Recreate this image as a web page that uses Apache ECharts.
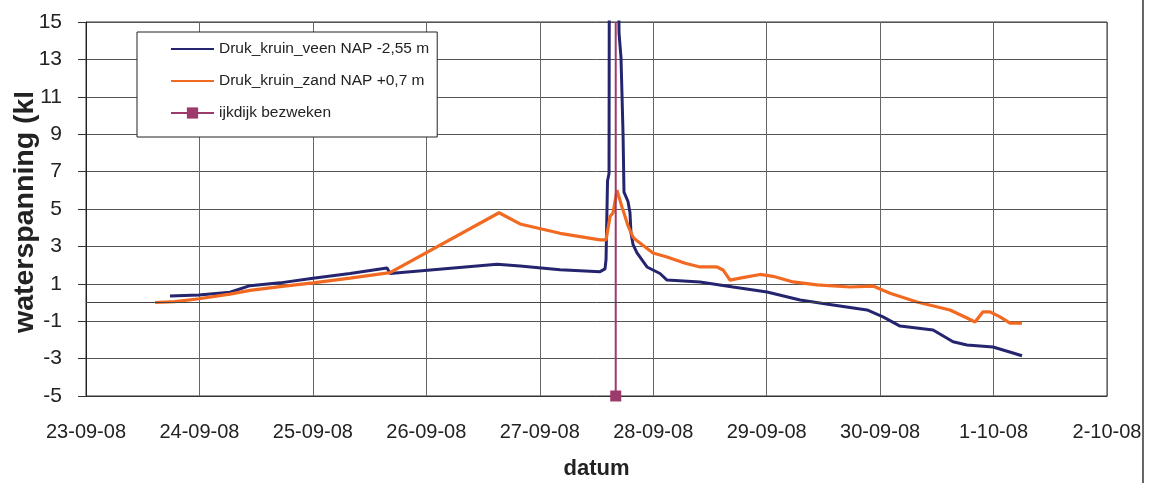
<!DOCTYPE html>
<html>
<head>
<meta charset="utf-8">
<script src="https://cdn.jsdelivr.net/npm/echarts@6/dist/echarts.min.js"></script>
<style>
html, body { margin: 0; padding: 0; background: #fff; }
#chart { width: 1149px; height: 483px; }
</style>
</head>
<body>
<div id="chart"></div>
<script>
// tick labels of the date axis (one per day)
var xLabels = ['23-09-08', '24-09-08', '25-09-08', '26-09-08', '27-09-08', '28-09-08', '29-09-08', '30-09-08', '1-10-08', '2-10-08'];
var seriesNames = ['Druk_kruin_veen NAP -2,55 m', 'Druk_kruin_zand NAP +0,7 m', 'ijkdijk bezweken'];

// Druk_kruin_veen (blauw)
var veenTimes = ['2008-09-23 17:46', '2008-09-23 23:54', '2008-09-24 06:28', '2008-09-24 10:42', '2008-09-24 17:03',
	'2008-09-25 00:02', '2008-09-25 07:51', '2008-09-25 15:41', '2008-09-25 16:19', '2008-09-26 14:57',
	'2008-09-26 19:49', '2008-09-27 04:17', '2008-09-27 12:45', '2008-09-27 13:48', '2008-09-27 14:01',
	'2008-09-27 14:20', '2008-09-27 14:39', '2008-09-27 14:45', '2008-09-27 16:30', '2008-09-27 16:46',
	'2008-09-27 17:11', '2008-09-27 17:37', '2008-09-27 17:49', '2008-09-27 18:40', '2008-09-27 19:05',
	'2008-09-27 19:18', '2008-09-27 19:44', '2008-09-27 20:34', '2008-09-27 22:41', '2008-09-28 01:26',
	'2008-09-28 02:55', '2008-09-28 09:54', '2008-09-28 16:53', '2008-09-29 00:05', '2008-09-29 07:04',
	'2008-09-29 14:02', '2008-09-29 21:14', '2008-09-30 00:37', '2008-09-30 04:13', '2008-09-30 11:12',
	'2008-09-30 15:26', '2008-09-30 18:23', '2008-09-30 23:53', '2008-10-01 04:07', '2008-10-01 06:01'];
var veenValues = [0.35, 0.4, 0.55, 0.9, 1.05,
	1.3, 1.55, 1.85, 1.55, 2.05,
	1.95, 1.75, 1.65, 1.8, 2.3,
	6.5, 6.9, 25, 22, 14.4,
	13.1, 9.0, 5.9, 5.4, 4.8,
	3.7, 3.1, 2.65, 1.9, 1.55,
	1.2, 1.1, 0.83, 0.56, 0.13,
	-0.13, -0.4, -0.77, -1.26, -1.47,
	-2.1, -2.27, -2.38, -2.7, -2.85];

// Druk_kruin_zand (oranje)
var zandTimes = ['2008-09-23 14:36', '2008-09-23 18:50', '2008-09-23 23:54', '2008-09-24 06:28', '2008-09-24 10:42',
	'2008-09-24 17:03', '2008-09-25 00:02', '2008-09-25 07:51', '2008-09-25 16:19', '2008-09-26 15:23',
	'2008-09-26 19:49', '2008-09-27 04:17', '2008-09-27 12:45', '2008-09-27 14:01', '2008-09-27 14:52',
	'2008-09-27 15:30', '2008-09-27 16:20', '2008-09-27 17:24', '2008-09-27 18:40', '2008-09-27 19:44',
	'2008-09-27 20:34', '2008-09-27 23:57', '2008-09-28 02:55', '2008-09-28 06:46', '2008-09-28 09:54',
	'2008-09-28 13:30', '2008-09-28 14:46', '2008-09-28 16:15', '2008-09-28 18:22', '2008-09-28 22:36',
	'2008-09-29 01:21', '2008-09-29 05:35', '2008-09-29 10:39', '2008-09-29 17:38', '2008-09-29 22:30',
	'2008-09-30 02:06', '2008-09-30 07:49', '2008-09-30 14:47', '2008-09-30 18:23', '2008-09-30 20:05',
	'2008-09-30 21:46', '2008-09-30 23:15', '2008-10-01 01:22', '2008-10-01 03:29', '2008-10-01 06:01'];
var zandValues = [0.0, 0.05, 0.2, 0.45, 0.65,
	0.85, 1.05, 1.3, 1.6, 4.8,
	4.2, 3.7, 3.35, 3.35, 4.6,
	4.8, 6.0, 5.1, 4.1, 3.5,
	3.3, 2.65, 2.43, 2.1, 1.9,
	1.9, 1.74, 1.2, 1.3, 1.5,
	1.4, 1.1, 0.94, 0.83, 0.88,
	0.5, 0.03, -0.4, -0.83, -1.04,
	-0.5, -0.5, -0.77, -1.1, -1.1];

// ijkdijk bezweken (verticale lijn)
var bezwekenTimes = ['2008-09-27 16:04', '2008-09-27 16:04'];
var bezwekenValues = [-5, 15];

var yTicks = { min: -5, max: 15, step: 2 };

var startMs = Date.parse('2008-09-23T00:00:00Z');
function toDay(s) {
	return (Date.parse(s.replace(' ', 'T') + ':00Z') - startMs) / 864e5;
}
function makeData(times, values) {
	var t = [];
	for (var i = 0; i < times.length; i++) {
		t.push([toDay(times[i]), values[i]]);
	}
	return t;
}

var bezwekenData = makeData(bezwekenTimes, bezwekenValues);
bezwekenData[1] = { value: bezwekenData[1], symbol: 'none' };

var dom = document.getElementById('chart');
var myChart = echarts.init(dom);
var font = 'Liberation Sans';

var option = {
	animation: false,
	backgroundColor: '#ffffff',
	legend: {
		orient: 'vertical',
		left: 137,
		top: 32,
		padding: [9, 8, 16, 33],
		itemWidth: 43,
		itemHeight: 14,
		itemGap: 16,
		borderColor: '#222',
		borderWidth: 1,
		backgroundColor: '#fff',
		textStyle: { fontFamily: font, fontSize: 15.5, color: '#222' },
		data: [
			{ name: seriesNames[0], itemStyle: { opacity: 0 } },
			{ name: seriesNames[1], itemStyle: { opacity: 0 } },
			{ name: seriesNames[2] }
		]
	},
	grid: {
		left: 86,
		right: 42,
		top: 22,
		bottom: 87,
		outerBoundsMode: 'none',
		show: true,
		borderColor: '#333',
		borderWidth: 1
	},
	xAxis: {
		type: 'value',
		min: 0,
		max: xLabels.length - 1,
		interval: 1,
		name: 'datum',
		nameLocation: 'middle',
		nameGap: 62,
		nameTextStyle: { fontFamily: font, fontSize: 22, fontWeight: 'bold', color: '#222' },
		axisLine: { onZero: false, lineStyle: { color: '#333' } },
		axisTick: { show: false },
		axisLabel: {
			margin: 26,
			fontFamily: font,
			fontSize: 20,
			color: '#222',
			formatter: function (v) { return xLabels[Math.round(v)]; }
		},
		splitLine: { show: true, lineStyle: { color: '#666', width: 1 } }
	},
	yAxis: {
		type: 'value',
		min: yTicks.min,
		max: yTicks.max,
		interval: yTicks.step,
		axisLine: { show: true, lineStyle: { color: '#222' } },
		axisTick: { show: true, length: 8, lineStyle: { color: '#333' } },
		axisLabel: { margin: 24, fontFamily: font, fontSize: 21, color: '#222' },
		splitLine: { show: true, lineStyle: { color: '#555', width: 1 } }
	},
	graphic: [{
		// de titel is in het origineel bovenaan afgesneden
		type: 'text',
		x: 25,
		y: 333,
		rotation: Math.PI / 2,
		z: 10,
		style: {
			text: 'waterspanning (kP',
			font: 'bold 28.5px Liberation Sans',
			fill: '#222',
			textAlign: 'left',
			textVerticalAlign: 'middle'
		}
	}, {
		type: 'rect',
		z: 20,
		shape: { x: 0, y: 0, width: 38, height: 93 },
		style: { fill: '#fff' }
	}, {
		type: 'line',
		z: 20,
		shape: { x1: 1143, y1: 0, x2: 1143, y2: 483 },
		style: { stroke: '#333', lineWidth: 1.5 }
	}],
	series: [{
		name: seriesNames[0],
		type: 'line',
		symbol: 'none',
		showSymbol: false,
		color: '#25256f',
		lineStyle: { width: 3, color: '#25256f' },
		data: makeData(veenTimes, veenValues),
		markLine: {
			silent: true,
			symbol: 'none',
			label: { show: false },
			lineStyle: { color: '#444', width: 1, type: 'solid' },
			data: [{ yAxis: 0 }]
		}
	}, {
		name: seriesNames[1],
		type: 'line',
		symbol: 'none',
		showSymbol: false,
		color: '#f26a22',
		lineStyle: { width: 3.2, color: '#f26a22' },
		data: makeData(zandTimes, zandValues)
	}, {
		name: seriesNames[2],
		type: 'line',
		symbol: 'rect',
		symbolSize: 11,
		showSymbol: true,
		color: '#9c3a6c',
		lineStyle: { width: 2, color: '#9c3a6c' },
		itemStyle: { color: '#9c3a6c' },
		data: bezwekenData
	}]
};
myChart.setOption(option);
</script>
</body>
</html>
